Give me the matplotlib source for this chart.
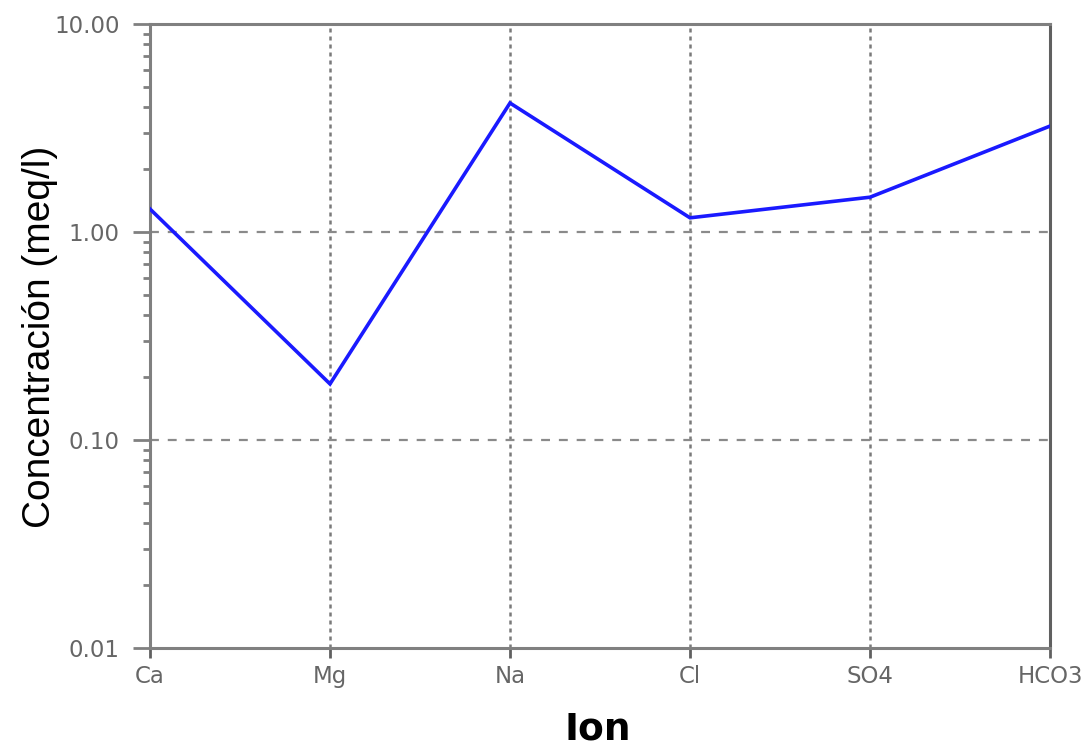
import matplotlib
matplotlib.use("Agg")
import matplotlib.pyplot as plt
from matplotlib import font_manager
from matplotlib.ticker import LogLocator, FixedLocator, NullFormatter

ions = ["Ca", "Mg", "Na", "Cl", "SO4", "HCO3"]
conc = [1.29, 0.186, 4.17, 1.17, 1.47, 3.23]
ytick_vals = [0.01, 0.1, 1, 10]
ytick_labels = ["0.01", "0.10", "1.00", "10.00"]

names = {f.name for f in font_manager.fontManager.ttflist}
narrow = "Liberation Sans Narrow" in names

fig = plt.figure(figsize=(10.86, 7.45), dpi=100)
ax = fig.add_axes([150/1086, 1-648/745, 900/1086, 624/745])

x = list(range(len(ions)))
ax.set_yscale("log")
ax.set_ylim(0.01, 10)
ax.set_xlim(0, len(ions)-1)

# grid
for xi in x[1:-1]:
    ax.axvline(xi, color="#7a7a7a", lw=1.8, ls=(0, (1.6, 1.6)), zorder=1)
for yv in [0.1, 1]:
    ax.axhline(yv, color="#8a8a8a", lw=1.6, ls=(0, (4, 4)), zorder=1)

ax.plot(x, conc, color="#1a1aff", lw=2.6, zorder=3, solid_joinstyle="miter")

ax.set_xticks(x)
ax.set_xticklabels(ions)
ax.yaxis.set_major_locator(FixedLocator(ytick_vals))
ax.set_yticklabels(ytick_labels)
ax.yaxis.set_minor_locator(LogLocator(base=10, subs=range(2, 10)))
ax.yaxis.set_minor_formatter(NullFormatter())

gray = "#808080"
for s in ax.spines.values():
    s.set_color(gray)
    s.set_linewidth(2.2)
ax.spines["right"].set_color("#606060")

ax.tick_params(axis="y", which="major", direction="out", length=12, width=2,
               color=gray, labelcolor="#666666", labelsize=16.5, pad=10)
ax.tick_params(axis="y", which="minor", direction="out", length=5, width=2,
               color=gray)
ax.tick_params(axis="x", which="major", direction="out", length=7.5, width=2,
               color="#606060", labelcolor="#666666", labelsize=16.5, pad=5)
for lab in ax.get_xticklabels() + ax.get_yticklabels():
    lab.set_fontfamily("DejaVu Sans")

if narrow:
    fig.text(40/1086, 1-337/745, "Concentración (meq/l)", rotation=90,
             ha="center", va="center", fontsize=34,
             family="Liberation Sans Narrow", color="black")
else:
    fig.text(40/1086, 1-337/745, "Concentración (meq/l)", rotation=90,
             ha="center", va="center", fontsize=28,
             family="Liberation Sans", color="black")

fig.text(598/1086, 1-729/745, "Ion", ha="center", va="center", fontsize=27,
         family="DejaVu Sans", fontweight="bold", color="black")

fig.savefig("out.png", dpi=100, facecolor="white")
